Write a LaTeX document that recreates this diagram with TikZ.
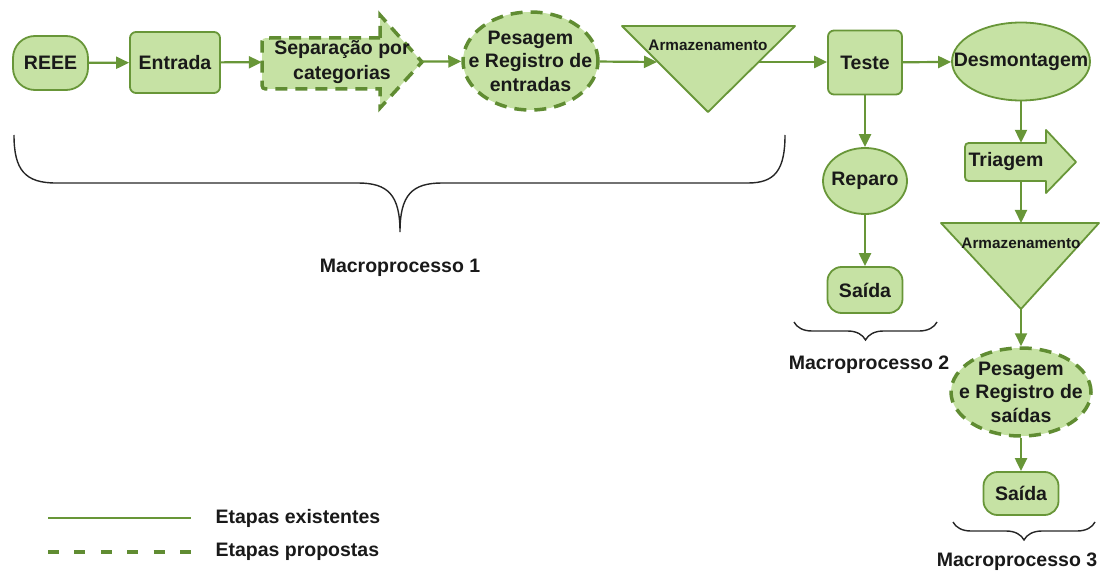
\documentclass[tikz,border=0pt]{standalone}
\usepackage{fontspec}
\setmainfont{Liberation Sans}
\usetikzlibrary{arrows.meta,shapes.geometric,decorations.pathreplacing}
\definecolor{gfill}{RGB}{198,226,164}
\definecolor{gline}{RGB}{104,150,56}
\definecolor{gdash}{RGB}{96,140,50}
\definecolor{gtext}{RGB}{25,25,25}
\begin{document}
\begin{tikzpicture}[x=1pt,y=-1pt,
  lab/.style={font=\fontsize{19.5}{23.5}\selectfont\bfseries, text=gtext, align=center},
  box/.style={lab, draw=gline, fill=gfill, line width=1.8pt, rounded corners=6pt, inner sep=0pt},
  solidshape/.style={draw=gline, fill=gfill, line width=1.8pt, line join=round},
  dashshape/.style={draw=gdash, fill=gfill, line width=3.5pt, dash pattern=on 12pt off 8pt},
  ell/.style={ellipse, inner sep=0pt},
  arr/.style={draw=gline, line width=2.2pt, -{Triangle[length=13pt,width=12pt]}},
  brc/.style={draw=black!85, line width=1.4pt},
  smalllab/.style={font=\fontsize{15.3}{17}\selectfont\bfseries, text=gtext},
  mbrace/.style={brc, decorate, decoration={brace, mirror, amplitude=18pt}}
]
\useasboundingbox (0,0) rectangle (1100,572);

% ---- Macroprocesso 1 row ----
\node[box, rounded corners=22pt, minimum width=75pt, minimum height=54pt] (reee) at (50.5,63) {REEE};
\node[box, minimum width=90pt, minimum height=61pt] (entrada) at (175,62.5) {Entrada};

\path[dashshape] (380,38) -- (380,15) -- (422,62) -- (380,108) -- (380,89) -- (270,89)
  .. controls (262,89) .. (262,81) -- (262,46) .. controls (262,38) .. (270,38) -- cycle;
\node[lab, minimum width=160pt, minimum height=51pt, inner sep=0pt, font=\fontsize{19.5}{25}\selectfont\bfseries] (sep) at (342,62) {Separação por\\categorias};

\node[ell, dashshape, minimum width=135pt, minimum height=98pt] (pes) at (530.5,61) {};
\node[lab] (pestext) at (pes) {Pesagem\\e Registro de\\entradas};

\path[solidshape] (622,26) -- (795,26) -- (708,112) -- cycle;
\node[smalllab] (arm1) at (708,45) {Armazenamento};
\coordinate (arm1L) at (657,62);
\coordinate (arm1R) at (759,62);

\node[box, minimum width=74pt, minimum height=64pt] (teste) at (865,62.5) {Teste};
\node[ell, solidshape, minimum width=138pt, minimum height=78pt] (desm) at (1021,61.5) {};
\node[lab] (desmtext) at (desm) {Desmontagem};

\draw[arr] (reee) -- (entrada);
\draw[arr] (entrada) -- (sep);
\draw[arr] (sep) -- (pes);
\draw[arr] (pes) -- (arm1L);
\draw[arr] (arm1R) -- (arm1R -| teste.west);
\draw[arr] (teste) -- (desm);

% ---- Macroprocesso 2 column ----
\node[ell, solidshape, minimum width=84pt, minimum height=66pt] (reparo) at (865,181) {};
\node[lab] (repartext) at (reparo) {Reparo};
\node[box, rounded corners=14pt, minimum width=75pt, minimum height=46pt] (saida2) at (865,290) {Saída};
\draw[arr] (teste) -- (reparo);
\draw[arr] (reparo) -- (saida2);

% ---- Macroprocesso 3 column ----
\path[solidshape] (1046,143) -- (1046,130) -- (1076,162) -- (1046,193) -- (1046,181) -- (973,181)
  .. controls (965,181) .. (965,173) -- (965,151) .. controls (965,143) .. (973,143) -- cycle;
\node[lab, minimum width=81pt, minimum height=38pt, inner sep=0pt] (tri) at (1006,162) {Triagem};

\path[solidshape] (941,223) -- (1099,223) -- (1021,309) -- cycle;
\node[smalllab] (arm2) at (1021,243) {Armazenamento};
\coordinate (arm2T) at (1021,223);
\coordinate (arm2B) at (1021,309);

\node[ell, dashshape, minimum width=140pt, minimum height=88pt] (pes2) at (1021,392) {};
\node[lab] (pes2text) at (pes2) {Pesagem\\e Registro de\\saídas};
\node[box, rounded corners=14pt, minimum width=75pt, minimum height=43pt] (saida3) at (1021,493.5) {Saída};

\draw[arr] (desm.south) -- (desm.south |- tri.north);
\draw[arr] (tri.south -| arm2T) -- (arm2T);
\draw[arr] (arm2B) -- (pes2);
\draw[arr] (pes2) -- (saida3);

% ---- braces and labels ----
\draw[brc] (14,135) .. controls (14,170) and (25,183) .. (56,183) -- (358,183)
  .. controls (388,183) and (400,195) .. (400,232)
  .. controls (400,195) and (412,183) .. (442,183) -- (748,183)
  .. controls (775,183) and (785,170) .. (785,135);
\node[lab] (m1) at (400,268) {Macroprocesso 1};
\draw[mbrace] (794,322) -- (937,322);
\node[lab] (m2) at (869,365) {Macroprocesso 2};
\draw[mbrace] (953,522) -- (1095,522);
\node[lab] (m3) at (1017,562) {Macroprocesso 3};

% ---- legend ----
\coordinate (l1a) at (48,518);
\coordinate (l1b) at (191,518);
\coordinate (l2a) at (48,552);
\coordinate (l2b) at (191,552);
\draw[draw=gline, line width=2.5pt] (l1a) -- (l1b);
\draw[draw=gdash, line width=4pt, dash pattern=on 11pt off 15.4pt] (l2a) -- (l2b);
\node[lab, anchor=west] (leg1) at (212,518) {Etapas existentes};
\node[lab, anchor=west] (leg2) at (212,552) {Etapas propostas};
\end{tikzpicture}
\end{document}
